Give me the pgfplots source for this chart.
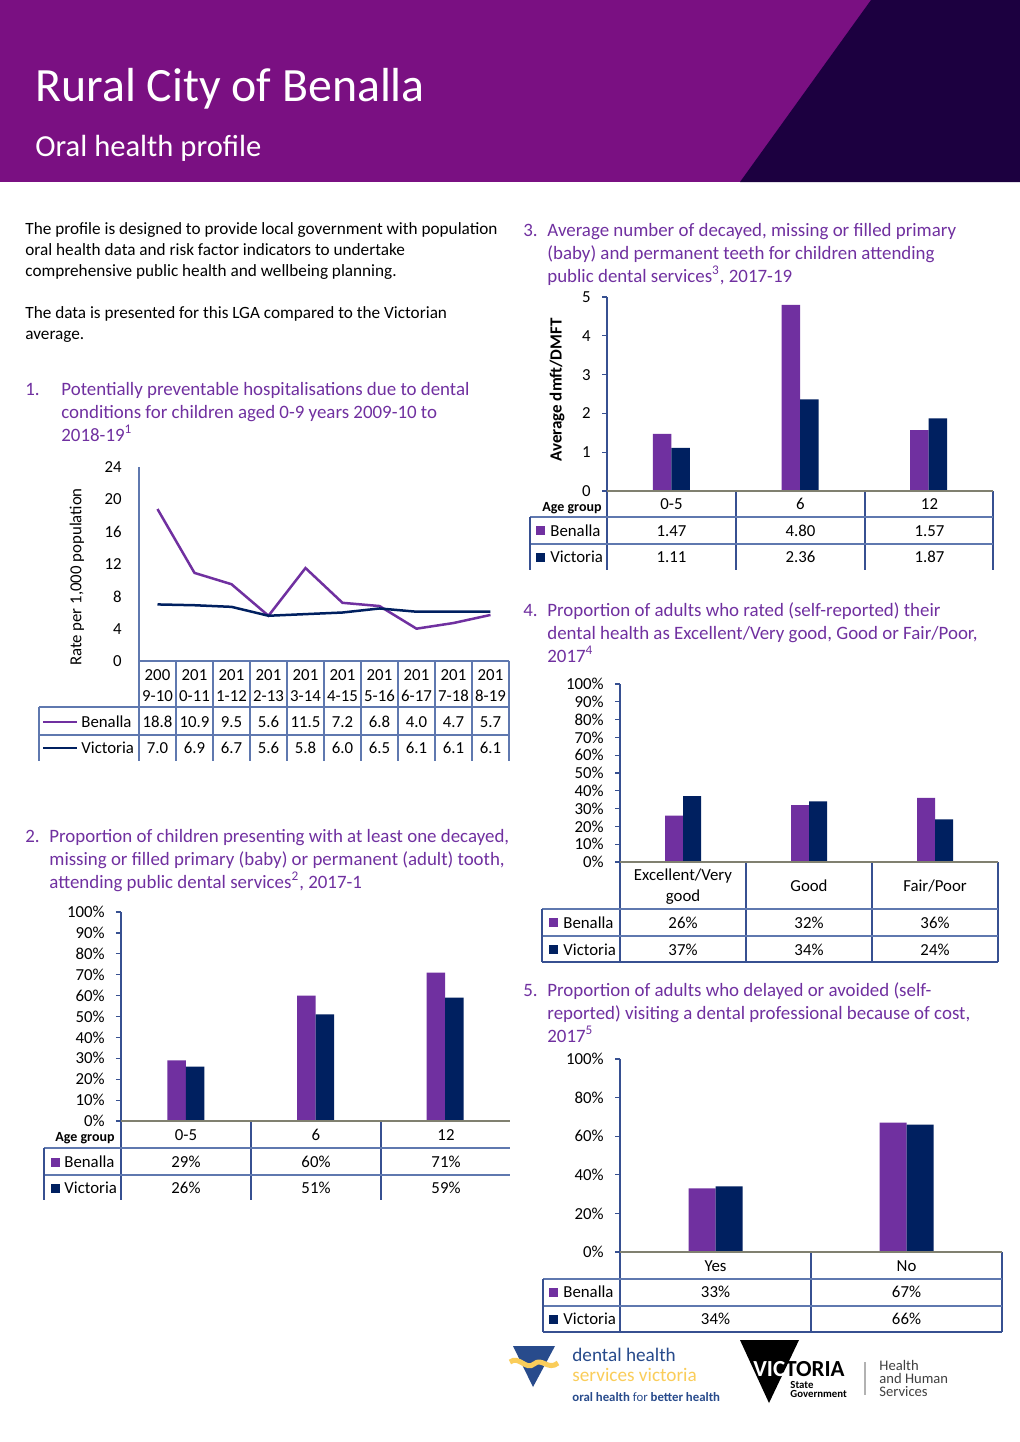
\documentclass[border=0pt]{standalone}
\usepackage{pgfplots}
\pgfplotsset{compat=1.18}
\usepackage{fontspec}
\setmainfont{Carlito}
\definecolor{hdr}{RGB}{122,16,130}
\definecolor{hdrdark}{RGB}{28,0,64}
\definecolor{ben}{RGB}{112,48,160}
\definecolor{vic}{RGB}{0,32,96}
\definecolor{tbl}{RGB}{55,80,145}
\definecolor{tbl1}{RGB}{95,120,175}
\definecolor{base}{RGB}{128,128,112}
\definecolor{ttl}{RGB}{112,48,160}
\definecolor{dhblue}{RGB}{40,75,140}
\definecolor{dhyel}{RGB}{250,205,90}
\newcommand\fs[1]{\fontsize{#1}{#1}\selectfont}
\pgfplotsset{
  pg/.style={scale only axis, anchor=south west, clip=false,
    axis line style={draw=none}, xtick=\empty, ytick pos=left,
    tick align=outside, major tick length=2.5pt,
    tick style={draw=tbl, line width=0.6pt},
    yticklabel style={font=\fs{8.4}, anchor=east, inner sep=0pt, xshift=-5.5pt}},
}
\begin{document}
\begin{tikzpicture}[x=0.5pt,y=-0.5pt,
  t/.style={anchor=base west, inner sep=0pt},
  tc/.style={anchor=base, inner sep=0pt},
  tl/.style={line width=0.6pt}]
\path[use as bounding box] (0,0) rectangle (1020,1442);
\fill[white] (0,0) rectangle (1020,1442);
% ---------- header
\fill[hdr] (0,0) rectangle (1020,182);
\fill[hdrdark] (871,0) -- (1020,0) -- (1020,182) -- (740,182) -- cycle;
\node[t, white] at (35,101) {\fs{23.9}Rural City of Benalla};
\node[t, white] at (35,156) {\fs{15.3}Oral health profile};
% ---------- intro text
\begin{scope}[every node/.style={t, font=\fs{8.6}}]
\node at (25,234) {The profile is designed to provide local government with population};
\node at (25,255) {oral health data and risk factor indicators to undertake};
\node at (25,276) {comprehensive public health and wellbeing planning.};
\node at (25,318) {The data is presented for this LGA compared to the Victorian};
\node at (25,339) {average.};
\end{scope}
% ---------- headings
\begin{scope}[every node/.style={t, text=ttl, font=\fs{9.45}}]
\node at (25,395) {1.};
\node at (61,395) {Potentially preventable hospitalisations due to dental};
\node at (61,418) {conditions for children aged 0-9 years 2009-10 to};
\node at (61,441) {2018-19\textsuperscript{1}};
\node at (25,842) {2.};
\node at (49,842) {Proportion of children presenting with at least one decayed,};
\node at (49,865) {missing or filled primary (baby) or permanent (adult) tooth,};
\node at (49,888) {attending public dental services\textsuperscript{2}, 2017-1};
\node at (523,236) {3.};
\node at (547,236) {Average number of decayed, missing or filled primary};
\node at (547,259) {(baby) and permanent teeth for children attending};
\node at (547,282) {public dental services\textsuperscript{3}, 2017-19};
\node at (523,616) {4.};
\node at (547,616) {Proportion of adults who rated (self-reported) their};
\node at (547,639) {dental health as Excellent/Very good, Good or Fair/Poor,};
\node at (547,662) {2017\textsuperscript{4}};
\node at (523,996) {5.};
\node at (547,996) {Proportion of adults who delayed or avoided (self-};
\node at (547,1019) {reported) visiting a dental professional because of cost,};
\node at (547,1042) {2017\textsuperscript{5}};
\end{scope}
% ================= Chart 1 (line)
\coordinate (o1) at (139,661);
\begin{axis}[pg, at={(o1)}, width=185pt, height=97pt,
  xmin=-0.5, xmax=9.5, ymin=0, ymax=24,
  ytick={0,4,8,12,16,20,24}, yticklabels={0,4,8,12,16,20,24},
  major tick length=0pt, yticklabel style={xshift=-3pt}]
\addplot[ben, line width=1.25pt, mark=none] coordinates {(0,18.8) (1,10.9) (2,9.5) (3,5.6) (4,11.5) (5,7.2) (6,6.8) (7,4.0) (8,4.7) (9,5.7)};
\addplot[vic, line width=1.25pt, mark=none] coordinates {(0,7.0) (1,6.9) (2,6.7) (3,5.6) (4,5.8) (5,6.0) (6,6.5) (7,6.1) (8,6.1) (9,6.1)};
\end{axis}
\draw[tbl1, tl] (139,467) -- (139,761);
\draw[tbl1, tl] (139,661) -- (509,661);
\draw[tbl1, tl] (39,707) -- (509,707) (39,735) -- (509,735) (39,707) -- (39,761);
\foreach \i in {1,...,10} \draw[tbl1, tl] ({139+37*\i},661) -- ({139+37*\i},761);
\node[rotate=90, inner sep=0pt] at (77,577) {\fs{8.4}Rate per 1,000 population};
\foreach \i/\ca/\cb/\cc/\cd in {0/200/9-10/18.8/7.0, 1/201/0-11/10.9/6.9, 2/201/1-12/9.5/6.7, 3/201/2-13/5.6/5.6, 4/201/3-14/11.5/5.8, 5/201/4-15/7.2/6.0, 6/201/5-16/6.8/6.5, 7/201/6-17/4.0/6.1, 8/201/7-18/4.7/6.1, 9/201/8-19/5.7/6.1} {
  \node[tc] at ({157.5+37*\i},680) {\fs{8.4}\ca};
  \node[tc] at ({157.5+37*\i},701) {\fs{8.4}\cb};
  \node[tc] at ({157.5+37*\i},727) {\fs{8.4}\cc};
  \node[tc] at ({157.5+37*\i},753) {\fs{8.4}\cd};
}
\draw[ben, line width=1.25pt] (43,722) -- (77,722);
\draw[vic, line width=1.25pt] (43,748) -- (77,748);
\node[t] at (81,727) {\fs{8.4}Benalla};
\node[t] at (81,753) {\fs{8.4}Victoria};
% ================= Chart 2
\coordinate (o2) at (121,1121);
\begin{axis}[pg, at={(o2)}, width=194.5pt, height=104.5pt,
  xmin=-0.5, xmax=2.5, ymin=0, ymax=100,
  ytick={0,10,20,30,40,50,60,70,80,90,100},
  yticklabels={0\%,10\%,20\%,30\%,40\%,50\%,60\%,70\%,80\%,90\%,100\%},
  ybar=0pt, bar width=9.25pt]
\addplot[fill=ben, draw=none] coordinates {(0,29) (1,60) (2,71)};
\addplot[fill=vic, draw=none] coordinates {(0,26) (1,51) (2,59)};
\end{axis}
\draw[tbl, tl] (121,912) -- (121,1200);
\draw[tbl, tl] (251,1121) -- (251,1200) (381,1121) -- (381,1200);
\draw[tbl1, tl] (44,1148) -- (510,1148) (44,1175) -- (510,1175);
\draw[tbl, tl] (44,1148) -- (44,1200);
\draw[base, line width=1pt] (121,1121) -- (510,1121);
\node[tc] at (85,1141) {\fs{7}\bfseries Age group};
\foreach \x/\ca/\cb/\cc in {186/0-5/29/26, 316/6/60/51, 446/12/71/59} {
  \node[tc] at (\x,1140) {\fs{8.4}\ca};
  \node[tc] at (\x,1167) {\fs{8.4}\cb\%};
  \node[tc] at (\x,1193) {\fs{8.4}\cc\%};
}
\fill[ben] (51,1158) rectangle (60,1167);
\fill[vic] (51,1184) rectangle (60,1193);
\node[t] at (64,1167) {\fs{8.4}Benalla};
\node[t] at (64,1193) {\fs{8.4}Victoria};
% ================= Chart 3
\coordinate (o3) at (607,491);
\begin{axis}[pg, at={(o3)}, width=193pt, height=97pt,
  xmin=-0.5, xmax=2.5, ymin=0, ymax=5,
  ytick={0,1,2,3,4,5}, yticklabels={0,1,2,3,4,5},
  ybar=0pt, bar width=9.25pt]
\addplot[fill=ben, draw=none] coordinates {(0,1.47) (1,4.80) (2,1.57)};
\addplot[fill=vic, draw=none] coordinates {(0,1.11) (1,2.36) (2,1.87)};
\end{axis}
\draw[tbl, tl] (607,297) -- (607,570);
\draw[tbl, tl] (736,491) -- (736,570) (865,491) -- (865,570) (993,491) -- (993,570);
\draw[tbl1, tl] (530,517) -- (993,517) (530,544) -- (993,544);
\draw[tbl, tl] (530,517) -- (530,570);
\draw[base, line width=1pt] (607,491) -- (993,491);
\node[tc] at (572,511) {\fs{7}\bfseries Age group};
\node[rotate=90, inner sep=0pt] at (557,390) {\fs{8.5}\bfseries Average dmft/DMFT};
\foreach \x/\ca/\cb/\cc in {671.5/0-5/1.47/1.11, 800.5/6/4.80/2.36, 929.5/12/1.57/1.87} {
  \node[tc] at (\x,509) {\fs{8.4}\ca};
  \node[tc] at (\x,536) {\fs{8.4}\cb};
  \node[tc] at (\x,562) {\fs{8.4}\cc};
}
\fill[ben] (536,526) rectangle (545,535);
\fill[vic] (536,553) rectangle (545,562);
\node[t] at (550,536) {\fs{8.4}Benalla};
\node[t] at (550,562) {\fs{8.4}Victoria};
% ================= Chart 4
\coordinate (o4) at (620,862);
\begin{axis}[pg, at={(o4)}, width=189pt, height=89pt,
  xmin=-0.5, xmax=2.5, ymin=0, ymax=100,
  ytick={0,10,20,30,40,50,60,70,80,90,100},
  yticklabels={0\%,10\%,20\%,30\%,40\%,50\%,60\%,70\%,80\%,90\%,100\%},
  ybar=0pt, bar width=9pt]
\addplot[fill=ben, draw=none] coordinates {(0,26) (1,32) (2,36)};
\addplot[fill=vic, draw=none] coordinates {(0,37) (1,34) (2,24)};
\end{axis}
\draw[tbl, tl] (620,684) -- (620,962);
\draw[tbl, tl] (746,862) -- (746,962) (872,862) -- (872,962) (998,862) -- (998,962);
\draw[tbl1, tl] (542,909) -- (998,909) (542,936) -- (998,936);
\draw[tbl, tl] (542,962) -- (998,962) (542,909) -- (542,962);
\draw[base, line width=1pt] (620,862) -- (998,862);
\node[tc] at (683,880) {\fs{8.4}Excellent/Very};
\node[tc] at (683,901) {\fs{8.4}good};
\node[tc] at (809,891) {\fs{8.4}Good};
\node[tc] at (935,891) {\fs{8.4}Fair/Poor};
\foreach \x/\cb/\cc in {683/26/37, 809/32/34, 935/36/24} {
  \node[tc] at (\x,928) {\fs{8.4}\cb\%};
  \node[tc] at (\x,955) {\fs{8.4}\cc\%};
}
\fill[ben] (549,918) rectangle (558,927);
\fill[vic] (549,945) rectangle (558,954);
\node[t] at (563,928) {\fs{8.4}Benalla};
\node[t] at (563,955) {\fs{8.4}Victoria};
% ================= Chart 5
\coordinate (o5) at (620,1252);
\begin{axis}[pg, at={(o5)}, width=191pt, height=96.5pt,
  xmin=-0.5, xmax=1.5, ymin=0, ymax=100,
  ytick={0,20,40,60,80,100},
  yticklabels={0\%,20\%,40\%,60\%,80\%,100\%},
  ybar=0pt, bar width=13.5pt]
\addplot[fill=ben, draw=none] coordinates {(0,33) (1,67)};
\addplot[fill=vic, draw=none] coordinates {(0,34) (1,66)};
\end{axis}
\draw[tbl, tl] (620,1059) -- (620,1332);
\draw[tbl, tl] (811,1252) -- (811,1332) (1002,1252) -- (1002,1332);
\draw[tbl1, tl] (543,1279) -- (1002,1279) (543,1306) -- (1002,1306);
\draw[tbl, tl] (543,1332) -- (1002,1332) (543,1279) -- (543,1332);
\draw[base, line width=1pt] (620,1252) -- (1002,1252);
\node[tc] at (715.5,1271) {\fs{8.4}Yes};
\node[tc] at (906.5,1271) {\fs{8.4}No};
\foreach \x/\cb/\cc in {715.5/33/34, 906.5/67/66} {
  \node[tc] at (\x,1297) {\fs{8.4}\cb\%};
  \node[tc] at (\x,1324) {\fs{8.4}\cc\%};
}
\fill[ben] (549,1288) rectangle (558,1297);
\fill[vic] (549,1315) rectangle (558,1324);
\node[t] at (563,1297) {\fs{8.4}Benalla};
\node[t] at (563,1324) {\fs{8.4}Victoria};
% ================= logos
\fill[dhblue] (513,1346) -- (555,1346) -- (533,1387) -- cycle;
\draw[dhyel, line width=2.5pt] (510,1362) .. controls (519,1355) and (526,1371) .. (534,1364) .. controls (542,1357) and (548,1371) .. (558,1363);
\node[t, dhblue] at (572,1361) {\fs{9.6}dental health};
\node[t, dhyel] at (572,1381) {\fs{9.6}services victoria};
\node[t, dhblue] at (572,1401) {\fs{6.4}\bfseries oral health \mdseries for \bfseries better health};
\fill[black] (740,1340) -- (799,1340) -- (769,1403) -- cycle;
\node[t] at (753,1376) {\fs{11.5}\bfseries \textcolor{white}{VIC}TORIA};
\node[t] at (790,1388) {\fs{5.4}\bfseries State};
\node[t] at (790,1397) {\fs{5.4}\bfseries Government};
\draw[gray!60, line width=0.6pt] (865,1362) -- (865,1395);
\node[t, black!75] at (879,1370) {\fs{7.3}Health};
\node[t, black!75] at (879,1383) {\fs{7.3}and Human};
\node[t, black!75] at (879,1396) {\fs{7.3}Services};
\end{tikzpicture}
\end{document}
